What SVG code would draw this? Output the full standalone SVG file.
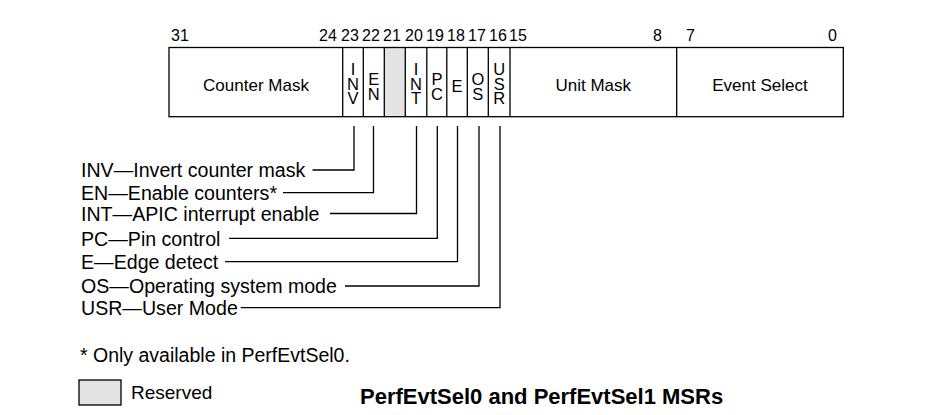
<svg xmlns="http://www.w3.org/2000/svg" width="928" height="415" viewBox="0 0 928 415">
<style>
text{font-family:"Liberation Sans",Arial,sans-serif;fill:#000}
.num{font-size:16px}
.lbl{font-size:17px;text-anchor:middle}
.bit{font-size:16.5px;writing-mode:vertical-rl;text-orientation:upright;letter-spacing:-3.5px}
.leg{font-size:19.6px}
.ln{fill:none;stroke:#000;stroke-width:1.3}
.cell{fill:none;stroke:#000;stroke-width:1.3}
.res{fill:#e3e3e3;stroke:#000;stroke-width:1.3}
</style>
<rect width="928" height="415" fill="#fff"/>
<g id="bit-numbers" class="num">
<text x="171" y="40.5">31</text>
<text x="319" y="40.5">24</text>
<text x="341" y="40.5">23</text>
<text x="362" y="40.5">22</text>
<text x="383" y="40.5">21</text>
<text x="405" y="40.5">20</text>
<text x="426" y="40.5">19</text>
<text x="447" y="40.5">18</text>
<text x="468" y="40.5">17</text>
<text x="489" y="40.5">16</text>
<text x="509" y="40.5">15</text>
<text x="653" y="40.5">8</text>
<text x="686" y="40.5">7</text>
<text x="828" y="40.5">0</text>
</g>
<g id="register">
<rect x="384.3" y="47.5" width="21" height="69.2" fill="#e3e3e3"/>
<rect class="cell" x="169" y="47.5" width="674.3" height="69.2"/>
<path class="ln" d="M342.7 47.5V116.7M363.3 47.5V116.7M384.3 47.5V116.7M405.3 47.5V116.7M426.8 47.5V116.7M446.8 47.5V116.7M467.3 47.5V116.7M488.3 47.5V116.7M510 47.5V116.7M676.7 47.5V116.7"/>
</g>
<g id="field-counter-mask"><text class="lbl" x="256" y="90.5">Counter Mask</text></g>
<g id="field-inv"><text class="bit" x="353" y="60">INV</text></g>
<g id="field-en"><text class="bit" x="373.8" y="70">EN</text></g>
<g id="field-int"><text class="bit" x="416" y="60">INT</text></g>
<g id="field-pc"><text class="bit" x="437" y="70">PC</text></g>
<g id="field-e"><text class="bit" x="457" y="77">E</text></g>
<g id="field-os"><text class="bit" x="477.8" y="70">OS</text></g>
<g id="field-usr"><text class="bit" x="499.2" y="60">USR</text></g>
<g id="field-unit-mask"><text class="lbl" x="593.3" y="90.5">Unit Mask</text></g>
<g id="field-event-select"><text class="lbl" x="760" y="90.5">Event Select</text></g>
<g id="connectors">
<path class="ln" d="M354 126V170H312.5"/>
<path class="ln" d="M373.5 126V192.7H283"/>
<path class="ln" d="M416.5 126V213.5H330"/>
<path class="ln" d="M437.3 126V238.3H229"/>
<path class="ln" d="M457.5 126V261.7H225"/>
<path class="ln" d="M479 126V286H345"/>
<path class="ln" d="M500 126V307.7H240.7"/>
</g>
<g id="legend" class="leg">
<text x="81" y="177">INV—Invert counter mask</text>
<text x="81" y="199.5">EN—Enable counters*</text>
<text x="81" y="220.5">INT—APIC interrupt enable</text>
<text x="81" y="245.5">PC—Pin control</text>
<text x="81" y="268.5">E—Edge detect</text>
<text x="81" y="293">OS—Operating system mode</text>
<text x="81" y="314.5">USR—User Mode</text>
</g>
<g id="footnote"><text x="80" y="361.7" style="font-size:19.5px">* Only available in PerfEvtSel0.</text></g>
<g id="reserved-key">
<rect class="res" x="79" y="380" width="42" height="25"/>
<text x="131" y="398.5" style="font-size:19px">Reserved</text>
</g>
<g id="title"><text x="360" y="404.3" style="font-size:22px;font-weight:bold">PerfEvtSel0 and PerfEvtSel1 MSRs</text></g>
</svg>
